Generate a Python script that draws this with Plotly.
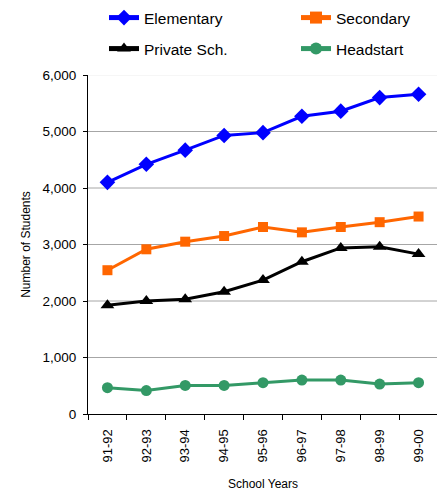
import plotly.graph_objects as go

years = ["91-92", "92-93", "93-94", "94-95", "95-96", "96-97", "97-98", "98-99", "99-00"]
elementary = [4100, 4420, 4670, 4930, 4980, 5270, 5360, 5600, 5660]
secondary = [2545, 2915, 3050, 3150, 3310, 3215, 3310, 3395, 3495]
private_sch = [1925, 2000, 2030, 2165, 2370, 2695, 2940, 2960, 2830]
headstart = [465, 415, 505, 505, 555, 600, 600, 530, 555]
grid_levels = [1000, 2000, 3000, 4000, 5000]
top_level = 6000

font = "Liberation Sans, Arial, sans-serif"

fig = go.Figure()
fig.add_trace(go.Scatter(x=years, y=elementary, name="Elementary", mode="lines+markers",
                         line=dict(color="#0000FF", width=3),
                         marker=dict(symbol="diamond", size=12, color="#0000FF"), legend="legend"))
fig.add_trace(go.Scatter(x=years, y=secondary, name="Secondary", mode="lines+markers",
                         line=dict(color="#FF6600", width=3),
                         marker=dict(symbol="square", size=10, color="#FF6600"), legend="legend2"))
fig.add_trace(go.Scatter(x=years, y=private_sch, name="Private Sch.", mode="lines+markers",
                         line=dict(color="#000000", width=3),
                         marker=dict(symbol="triangle-up", size=12, color="#000000"), legend="legend3"))
fig.add_trace(go.Scatter(x=years, y=headstart, name="Headstart", mode="lines+markers",
                         line=dict(color="#339966", width=3),
                         marker=dict(symbol="circle", size=11, color="#339966"), legend="legend4"))

leg_common = dict(orientation="h", xanchor="left", yanchor="middle",
                  xref="container", yref="container",
                  font=dict(family=font, size=15.5, color="#000"),
                  bgcolor="rgba(0,0,0,0)", itemsizing="constant", borderwidth=0)

# page body has an 8px margin, so the figure is drawn 8px in from the window corner
W, H = 437, 483
col1, col2 = 96 / W, 288 / W
row1, row2 = 1 - 10 / H, 1 - 41 / H

shapes = [dict(type="line", xref="paper", x0=0, x1=1, yref="y", y0=v, y1=v,
               line=dict(color="#A6A6A6", width=1), layer="below") for v in grid_levels]
shapes.append(dict(type="line", xref="paper", x0=0, x1=1, yref="y", y0=top_level, y1=top_level,
                   line=dict(color="#EDEDED", width=1), layer="below"))

fig.update_layout(
    width=W, height=H,
    showlegend=True,
    margin=dict(l=80, r=7, t=67, b=77, autoexpand=False),
    paper_bgcolor="white", plot_bgcolor="white",
    font=dict(family=font, size=13, color="#000"),
    legend=dict(x=col1, y=row1, **leg_common),
    legend2=dict(x=col2, y=row1, **leg_common),
    legend3=dict(x=col1, y=row2, **leg_common),
    legend4=dict(x=col2, y=row2, **leg_common),
    shapes=shapes,
    xaxis=dict(
        title=dict(text="School Years", font=dict(size=12), standoff=18),
        tickangle=-90, showline=True, linecolor="#000", linewidth=1,
        ticks="outside", ticklen=5, tickcolor="#000", tickson="boundaries",
        ticklabelstandoff=9,
        showgrid=False, range=[-0.5, 8.5], tickfont=dict(size=13),
    ),
    yaxis=dict(
        title=dict(text="Number of Students", font=dict(size=12), standoff=9),
        range=[0, 6000], dtick=1000, tickformat=",",
        showline=True, linecolor="#000", linewidth=1,
        ticks="outside", ticklen=4, tickcolor="#000",
        ticklabelstandoff=4,
        showgrid=False, zeroline=False,
        tickfont=dict(size=13.5),
    ),
)

fig.write_html("out.html")
